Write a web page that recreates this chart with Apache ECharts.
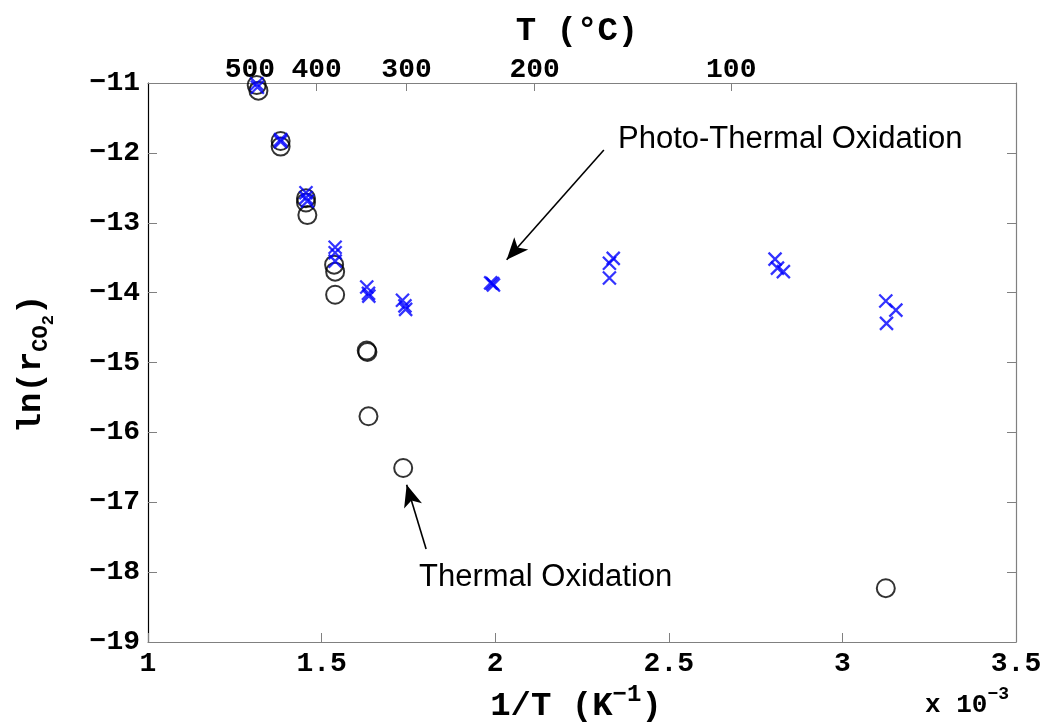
<!DOCTYPE html>
<html>
<head>
<meta charset="utf-8">
<script src="https://cdn.jsdelivr.net/npm/echarts@6/dist/echarts.min.js"></script>
<style>
html,body{margin:0;padding:0;background:#fff;}
#c{width:1046px;height:726px;}
</style>
</head>
<body>
<div id="c"></div>
<script>
// ---- data (1/T in 1e-3 K^-1, ln r_CO2) ----
var thermalX = [1.313, 1.318, 1.382, 1.382, 1.455, 1.455, 1.459, 1.536, 1.539, 1.539, 1.630, 1.632, 1.635, 1.735, 3.125];
var thermalY = [-11.03, -11.11, -11.83, -11.91, -12.65, -12.71, -12.89, -13.60, -13.70, -14.03, -14.83, -14.85, -15.77, -16.51, -18.23];

var photoX = [1.313, 1.315, 1.382, 1.382, 1.455, 1.455, 1.459, 1.539, 1.539, 1.539, 1.630, 1.635, 1.636, 1.733, 1.740, 1.742, 1.987, 1.992, 1.995, 2.340, 2.329, 2.329, 2.806, 2.813, 2.830, 3.125, 3.154, 3.127];
var photoY = [-11.01, -11.06, -11.81, -11.84, -12.57, -12.64, -12.69, -13.35, -13.43, -13.55, -13.92, -14.01, -14.05, -14.11, -14.19, -14.24, -13.86, -13.87, -13.89, -13.51, -13.58, -13.79, -13.52, -13.65, -13.70, -14.12, -14.25, -14.44];

var bottomTicks = [1, 1.5, 2, 2.5, 3, 3.5];
var tempLabels = [500, 400, 300, 200, 100];   // top axis, °C
var yTicks = [-19, -18, -17, -16, -15, -14, -13, -12, -11];

// annotation arrows: [fromX, fromY, toX, toY]
var photoArrow = [2.313, -11.96, 2.033, -13.53];
var thermalArrow = [1.801, -17.67, 1.745, -16.75];

// ---- derived ----
var topPos = tempLabels.map(function (t) { return 1000 / (t + 273.15); });
function zip(xs, ys) { return xs.map(function (x, i) { return [x, ys[i]]; }); }

var mono = 'Liberation Mono';
var grey = '#808080';
var tickFont = 28;
var chart = echarts.init(document.getElementById('c'), null, {renderer: 'canvas'});

var option = {
  animation: false,
  backgroundColor: '#fff',
  grid: {left: 148, right: 30, top: 83, bottom: 84, containLabel: false},
  xAxis: [
    {
      type: 'value', position: 'bottom', min: bottomTicks[0], max: bottomTicks[bottomTicks.length - 1], interval: 0.5,
      axisLine: {show: true, onZero: false, lineStyle: {color: grey, width: 1.2}},
      axisTick: {show: true, inside: true, length: 9, lineStyle: {color: grey}},
      axisLabel: {margin: 8, color: '#000', fontFamily: mono, fontWeight: 'bold', fontSize: tickFont},
      splitLine: {show: false}
    },
    {
      type: 'value', position: 'top', min: 1, max: 3.5,
      axisLine: {show: true, onZero: false, lineStyle: {color: grey, width: 1.2}},
      axisTick: {show: true, inside: true, length: 8, customValues: topPos, lineStyle: {color: grey}},
      axisLabel: {
        show: true, margin: -1, customValues: topPos, color: '#000', fontFamily: mono, fontWeight: 'bold', fontSize: tickFont,
        formatter: function (v) {
          var best = 0;
          for (var i = 1; i < topPos.length; i++) if (Math.abs(topPos[i] - v) < Math.abs(topPos[best] - v)) best = i;
          return String(tempLabels[best]);
        }
      },
      splitLine: {show: false}
    }
  ],
  yAxis: [
    {
      type: 'value', position: 'left', min: yTicks[0], max: yTicks[yTicks.length - 1], interval: 1,
      axisLine: {show: true, onZero: false, lineStyle: {color: '#000', width: 1.2}},
      axisTick: {show: true, inside: true, length: 9, lineStyle: {color: grey}},
      axisLabel: {margin: 8, color: '#000', fontFamily: mono, fontWeight: 'bold', fontSize: tickFont,
        formatter: function (v) { return String(v).replace('-', '\u2212'); }},
      splitLine: {show: false}
    },
    {
      type: 'value', position: 'right', min: -19, max: -11, interval: 1,
      axisLine: {show: true, onZero: false, lineStyle: {color: grey, width: 1.2}},
      axisTick: {show: true, inside: true, length: 9, lineStyle: {color: grey}},
      axisLabel: {show: false},
      splitLine: {show: false}
    }
  ],
  series: [
    {
      name: 'Thermal Oxidation', type: 'scatter', xAxisIndex: 0, yAxisIndex: 0,
      symbol: 'circle', symbolSize: 18,
      itemStyle: {color: 'rgba(0,0,0,0)', borderColor: '#000', borderWidth: 2},
      data: zip(thermalX, thermalY),
      z: 2,
      markLine: {
        silent: true, animation: false,
        label: {show: false},
        lineStyle: {color: '#000', width: 1.6, type: 'solid'},
        emphasis: {disabled: true},
        data: [
          [{coord: [photoArrow[0], photoArrow[1]], symbol: 'none'}, {coord: [photoArrow[2], photoArrow[3]], symbol: 'arrow', symbolSize: [14, 22]}],
          [{coord: [thermalArrow[0], thermalArrow[1]], symbol: 'none'}, {coord: [thermalArrow[2], thermalArrow[3]], symbol: 'arrow', symbolSize: [14, 22]}]
        ]
      }
    },
    {
      name: 'Photo-Thermal Oxidation', type: 'scatter', xAxisIndex: 0, yAxisIndex: 0,
      symbol: 'path://M0,0L10,10M10,0L0,10', symbolSize: 13,
      itemStyle: {color: 'rgba(0,0,0,0)', borderColor: '#0000ff', borderWidth: 2.3},
      data: zip(photoX, photoY),
      z: 3
    }
  ],
  graphic: [
    {type: 'text', left: 618, top: 124, style: {text: 'Photo-Thermal Oxidation', fontFamily: 'Liberation Sans', fontSize: 31, fill: '#000'}},
    {type: 'text', left: 419, top: 562, style: {text: 'Thermal Oxidation', fontFamily: 'Liberation Sans', fontSize: 31, fill: '#000'}},
    {type: 'text', x: 577, y: 48, style: {text: 'T (°C)', fontFamily: mono, fontWeight: 'bold', fontSize: 34, fill: '#000', align: 'center', verticalAlign: 'bottom'}},
    {type: 'text', x: 576, y: 723, style: {
      text: '{a|1/T (K}{s|\u22121}{a|)}', align: 'center', verticalAlign: 'bottom', fill: '#000',
      rich: {
        a: {fontFamily: mono, fontWeight: 'bold', fontSize: 34, verticalAlign: 'bottom'},
        s: {fontFamily: mono, fontWeight: 'bold', fontSize: 24, verticalAlign: 'bottom', padding: [0, 0, 16, 0]}
      }}},
    {type: 'text', x: 967, y: 718, style: {
      text: '{a|x 10}{s|\u22123}', align: 'center', verticalAlign: 'bottom', fill: '#000',
      rich: {
        a: {fontFamily: mono, fontWeight: 'bold', fontSize: 26, verticalAlign: 'bottom'},
        s: {fontFamily: mono, fontWeight: 'bold', fontSize: 18, verticalAlign: 'bottom', padding: [0, 0, 15, 0]}
      }}},
    {type: 'text', x: 36, y: 364, rotation: Math.PI / 2, style: {
      text: '{a|ln(r}{s|CO}{ss|2}{a|)}', align: 'center', verticalAlign: 'middle', fill: '#000',
      rich: {
        a: {fontFamily: mono, fontWeight: 'bold', fontSize: 34, verticalAlign: 'top'},
        s: {fontFamily: mono, fontWeight: 'bold', fontSize: 22, verticalAlign: 'top', padding: [16, 0, 0, 0]},
        ss: {fontFamily: mono, fontWeight: 'bold', fontSize: 17, verticalAlign: 'top', padding: [26, 0, 0, 0]}
      }}}
  ]
};
chart.setOption(option);
</script>
</body>
</html>
